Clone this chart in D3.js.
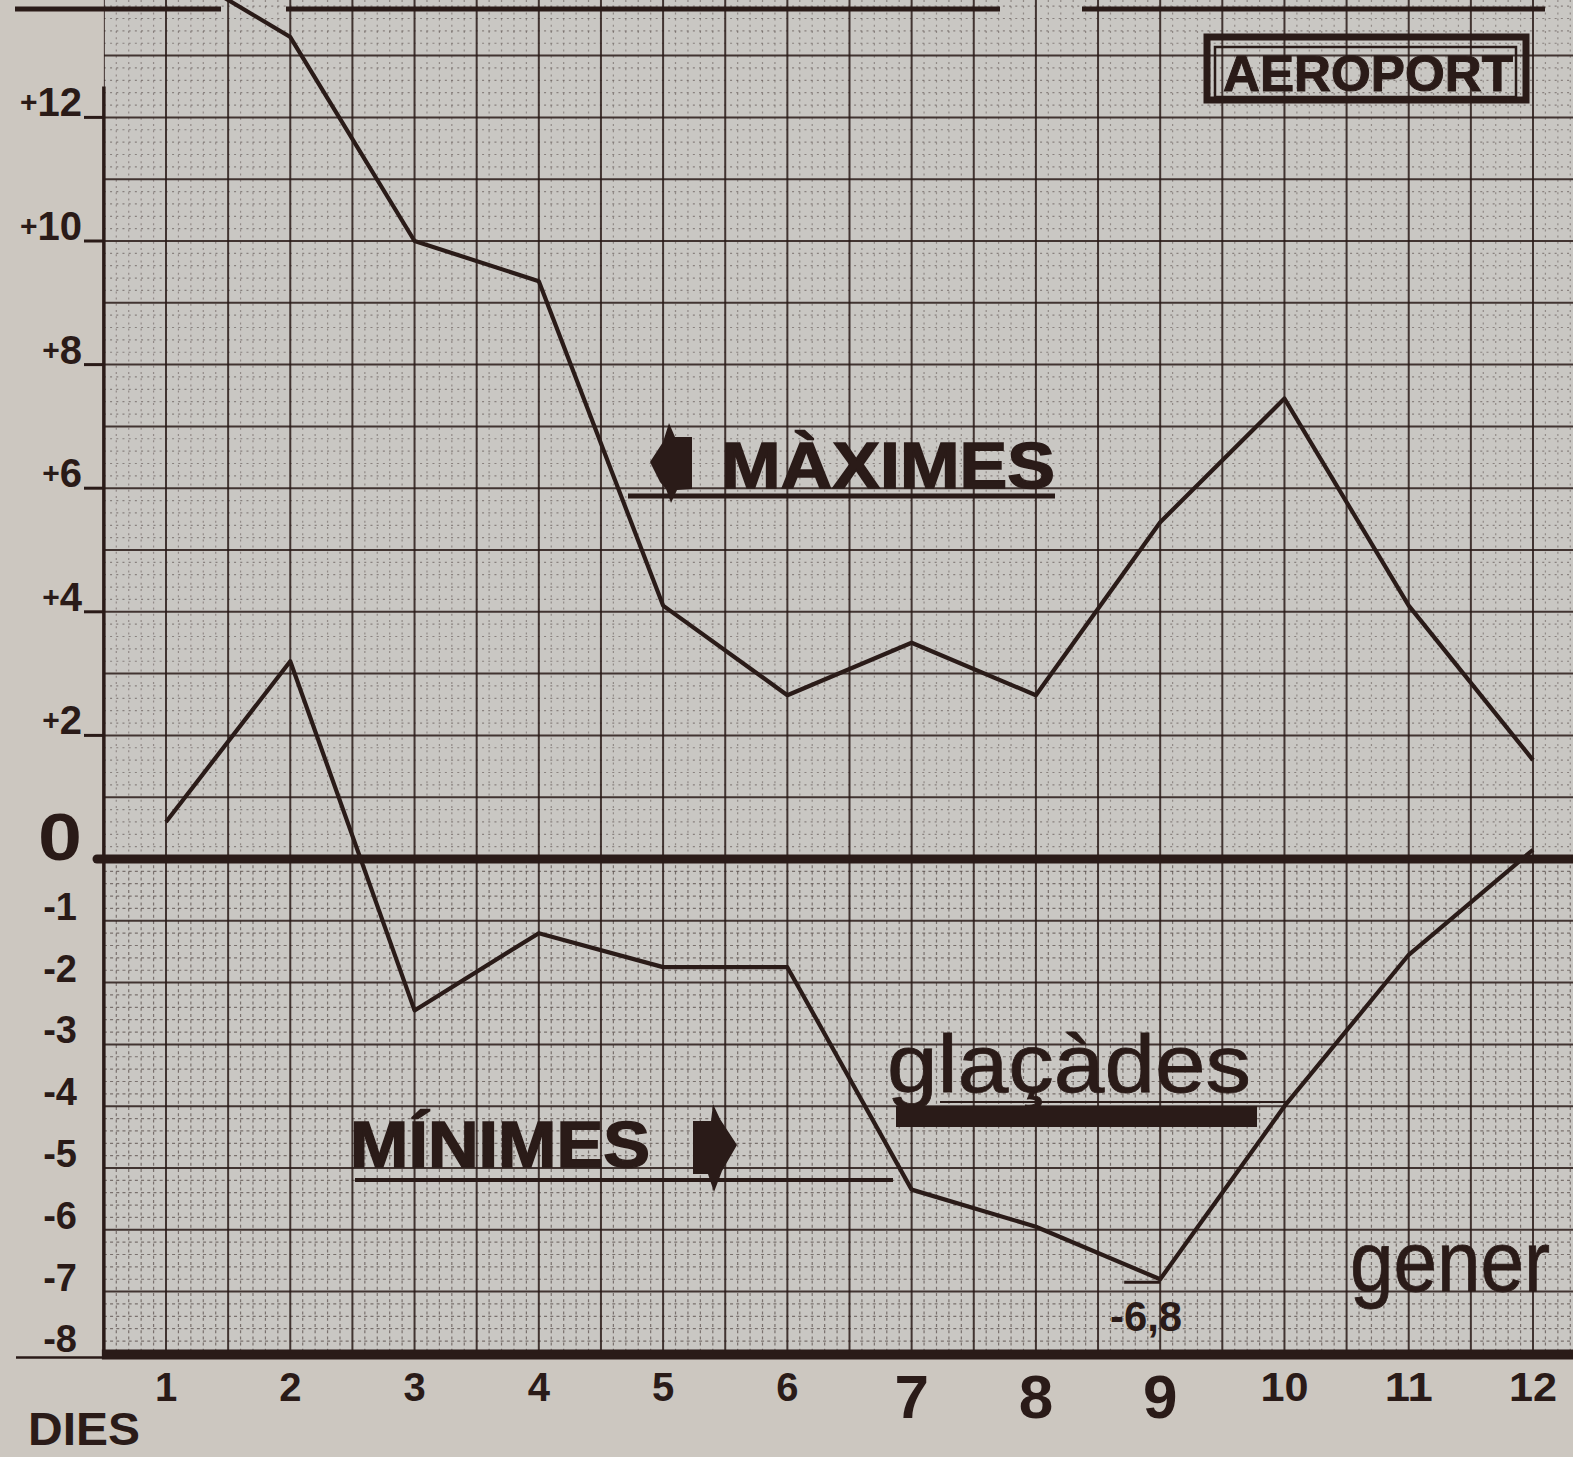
<!DOCTYPE html>
<html><head><meta charset="utf-8">
<script src="https://cdn.jsdelivr.net/npm/d3@7"></script>
<style>
html,body{margin:0;padding:0;background:#cbc7c1;overflow:hidden;}
svg{display:block;}
text{font-family:"Liberation Sans",Arial,Helvetica,sans-serif;fill:#2a1b18;}
</style></head><body>
<svg id="chart" width="1573" height="1457"></svg>
<script>
// ---- data ----
const days = [1,2,3,4,5,6,7,8,9,10,11,12];
const maxima = [14.5, 13.3, 10.0, 9.35, 4.1, 2.65, 3.5, 2.65, 5.45, 7.45, 4.1, 1.6];
const minima = [0.6, 3.2, -2.45, -1.2, -1.75, -1.75, -5.35, -5.95, -6.8, -4.0, -1.55, 0.15];
const yPosTicks = [12, 10, 8, 6, 4, 2];
const yPosLabels = ["12", "10", "8", "6", "4", "2"];
const yNegTicks = [-1, -2, -3, -4, -5, -6, -7, -8];
const yNegLabels = ["-1", "-2", "-3", "-4", "-5", "-6", "-7", "-8"];
const xTickLabels = ["1","2","3","4","5","6","7","8","9","10","11","12"];
const minLowLabel = "-6,8";

// ---- layout ----
const W = 1573, H = 1457;
const ink = "#2a1b18";
const svg = d3.select("#chart");
const x = d3.scaleLinear().domain([1, 12]).range([166, 1533]);
const y = d3.scaleLinear().domain([0, -8]).range([859, 1353.4]);
const gridL = x(0.5), gridR = W, gridT = 0, gridB = y(-8);

svg.append("rect").attr("width", W).attr("height", H).attr("fill", "#ccc7c0");
svg.append("rect").attr("x", gridL).attr("y", 0).attr("width", gridR - gridL).attr("height", gridB)
  .attr("fill", "#c9c7c3");

const defs = svg.append("defs");
defs.append("clipPath").attr("id", "gclip").append("rect")
  .attr("x", gridL).attr("y", gridT).attr("width", gridR - gridL).attr("height", gridB - gridT);
defs.append("clipPath").attr("id", "pclip").append("rect")
  .attr("x", 0).attr("y", 0).attr("width", W).attr("height", H);

const grid = svg.append("g").attr("clip-path", "url(#gclip)");
const isInt = v => Math.abs(v - Math.round(v)) < 1e-6;
const isHalf = v => Math.abs(v * 2 - Math.round(v * 2)) < 1e-6;

// minor horizontal lines
const minorH = d3.range(-8, 14, 0.2).map(v => +v.toFixed(2)).filter(v => !isInt(v));
grid.selectAll("line.mh").data(minorH).join("line")
  .attr("x1", gridL).attr("x2", gridR)
  .attr("y1", d => y(d)).attr("y2", d => y(d))
  .attr("stroke", ink).attr("stroke-width", 1.2)
  .attr("stroke-dasharray", d => d < 0 ? "3,3.2" : "2,4.2")
  .attr("opacity", d => d < 0 ? 0.5 : 0.4);
// minor vertical lines (two segments: above and below zero)
const minorV = d3.range(0.5, 12.8, 0.1).map(v => +v.toFixed(2)).filter(v => !isHalf(v));
grid.selectAll("line.mvu").data(minorV).join("line")
  .attr("x1", d => x(d)).attr("x2", d => x(d))
  .attr("y1", gridT).attr("y2", y(0))
  .attr("stroke", ink).attr("stroke-width", 1.2)
  .attr("stroke-dasharray", "2,4.2").attr("opacity", 0.35);
grid.selectAll("line.mvd").data(minorV).join("line")
  .attr("x1", d => x(d)).attr("x2", d => x(d))
  .attr("y1", y(0)).attr("y2", gridB)
  .attr("stroke", ink).attr("stroke-width", 1.2)
  .attr("stroke-dasharray", "3,3.2").attr("opacity", 0.5);
// major lines
const majorH = d3.range(-8, 14, 1);
grid.selectAll("line.MH").data(majorH).join("line")
  .attr("x1", gridL).attr("x2", gridR)
  .attr("y1", d => y(d)).attr("y2", d => y(d))
  .attr("stroke", ink).attr("stroke-width", 2).attr("opacity", 0.85);
const majorV = d3.range(0.5, 12.8, 0.5);
grid.selectAll("line.MV").data(majorV).join("line")
  .attr("x1", d => x(d)).attr("x2", d => x(d))
  .attr("y1", gridT).attr("y2", gridB)
  .attr("stroke", ink).attr("stroke-width", 2).attr("opacity", 0.85);

// left axis line
svg.append("line").attr("x1", gridL).attr("x2", gridL).attr("y1", y(12.5)).attr("y2", gridB)
  .attr("stroke", ink).attr("stroke-width", 3.5);

// top decorative thick frame line (broken)
const topY = 9;
[[15, 221], [286, 1000], [1082, 1545]].forEach(s => {
  svg.append("line").attr("x1", s[0]).attr("x2", s[1]).attr("y1", topY).attr("y2", topY)
    .attr("stroke", ink).attr("stroke-width", 5);
});

// zero line
svg.append("line").attr("x1", 97).attr("x2", W).attr("y1", y(0)).attr("y2", y(0))
  .attr("stroke", ink).attr("stroke-width", 9).attr("stroke-linecap", "round");
// bottom axis
svg.append("line").attr("x1", gridL - 2).attr("x2", W).attr("y1", y(-8) + 1).attr("y2", y(-8) + 1)
  .attr("stroke", ink).attr("stroke-width", 10);
svg.append("line").attr("x1", 16).attr("x2", gridL).attr("y1", y(-8) + 4).attr("y2", y(-8) + 4)
  .attr("stroke", ink).attr("stroke-width", 2.5);

// y ticks (positive)
svg.selectAll("line.yt").data(yPosTicks).join("line")
  .attr("x1", 84).attr("x2", gridL).attr("y1", d => y(d)).attr("y2", d => y(d))
  .attr("stroke", ink).attr("stroke-width", 3);
const pl = svg.selectAll("text.yp").data(yPosTicks).join("text")
  .attr("x", 82).attr("y", d => y(d) - 1).attr("text-anchor", "end")
  .attr("font-size", 40).attr("font-weight", "bold");
pl.append("tspan").attr("font-size", 30).attr("dy", -4).text("+");
pl.append("tspan").attr("dy", 4).text((d, i) => yPosLabels[i]);
// zero label
svg.append("text").attr("x", 38).attr("y", y(0) + 1).attr("font-size", 66).attr("font-weight", "bold")
  .attr("textLength", 44).attr("lengthAdjust", "spacingAndGlyphs").text("0");
// negative labels
svg.selectAll("text.yn").data(yNegTicks).join("text")
  .attr("x", 77).attr("y", d => y(d) - 1).attr("text-anchor", "end")
  .attr("font-size", 38).attr("font-weight", "bold")
  .text((d, i) => yNegLabels[i]);

// x labels
svg.selectAll("text.xl").data(days).join("text")
  .attr("x", d => x(d)).attr("text-anchor", "middle").attr("font-weight", "bold")
  .attr("y", d => (d >= 7 && d <= 9) ? 1418 : 1401)
  .attr("font-size", d => (d >= 7 && d <= 9) ? 62 : 40)
  .attr("textLength", d => d >= 10 ? 48 : null)
  .attr("lengthAdjust", "spacingAndGlyphs")
  .text((d, i) => xTickLabels[i]);
svg.append("text").attr("x", 28).attr("y", 1445).attr("font-size", 46).attr("font-weight", "bold")
  .attr("textLength", 112).attr("lengthAdjust", "spacingAndGlyphs").text("DIES");

// data lines
const line = d3.line().x(d => x(d[0])).y(d => y(d[1]));
const plot = svg.append("g").attr("clip-path", "url(#pclip)");
plot.append("path").datum(days.map((d, i) => [d, maxima[i]])).attr("d", line)
  .attr("fill", "none").attr("stroke", ink).attr("stroke-width", 4.2).attr("stroke-linejoin", "round");
plot.append("path").datum(days.map((d, i) => [d, minima[i]])).attr("d", line)
  .attr("fill", "none").attr("stroke", ink).attr("stroke-width", 4.2).attr("stroke-linejoin", "round");

// lowest-minimum marker & label
const iLow = minima.indexOf(d3.min(minima));
svg.append("line").attr("x1", x(days[iLow]) - 36).attr("x2", x(days[iLow]))
  .attr("y1", y(minima[iLow]) + 3).attr("y2", y(minima[iLow]) + 3)
  .attr("stroke", ink).attr("stroke-width", 3);
svg.append("text").attr("x", 1110).attr("y", 1331).attr("font-size", 42).attr("font-weight", "bold")
  .attr("textLength", 72).attr("lengthAdjust", "spacingAndGlyphs").text(minLowLabel);

// AEROPORT box
svg.append("rect").attr("x", 1207).attr("y", 37).attr("width", 319).attr("height", 63)
  .attr("fill", "none").attr("stroke", ink).attr("stroke-width", 7);
svg.append("rect").attr("x", 1215).attr("y", 47).attr("width", 301).attr("height", 50)
  .attr("fill", "none").attr("stroke", ink).attr("stroke-width", 2.5);
svg.append("text").attr("x", 1223).attr("y", 91).attr("font-size", 50).attr("font-weight", "bold")
  .attr("stroke", ink).attr("stroke-width", 1)
  .attr("textLength", 290).attr("lengthAdjust", "spacingAndGlyphs").text("AEROPORT");

// MÀXIMES
svg.append("text").attr("x", 721).attr("y", 488).attr("font-size", 64).attr("font-weight", "bold")
  .attr("stroke", ink).attr("stroke-width", 1.5)
  .attr("textLength", 334).attr("lengthAdjust", "spacingAndGlyphs").text("MÀXIMES");
svg.append("line").attr("x1", 628).attr("x2", 1055).attr("y1", 496).attr("y2", 496)
  .attr("stroke", ink).attr("stroke-width", 5);
svg.append("polygon")
  .attr("points", [[650,462],[663,442],[669,423],[675,437],[692,437],[692,489],[677,490],[671,503],[666,489],[660,482]].map(p => p.join(",")).join(" "))
  .attr("fill", ink);

// MÍNIMES
svg.append("text").attr("x", 350).attr("y", 1167).attr("font-size", 64).attr("font-weight", "bold")
  .attr("stroke", ink).attr("stroke-width", 1.5)
  .attr("textLength", 300).attr("lengthAdjust", "spacingAndGlyphs").text("MÍNIMES");
svg.append("line").attr("x1", 355).attr("x2", 893).attr("y1", 1180).attr("y2", 1180)
  .attr("stroke", ink).attr("stroke-width", 4);
svg.append("polygon")
  .attr("points", [[693,1121],[711,1121],[713,1104],[720,1119],[737,1145],[722,1171],[714,1192],[708,1174],[693,1174]].map(p => p.join(",")).join(" "))
  .attr("fill", ink);

// glaçàdes
svg.append("text").attr("x", 887).attr("y", 1092).attr("font-size", 82)
  .attr("stroke", ink).attr("stroke-width", 0.8)
  .attr("textLength", 364).attr("lengthAdjust", "spacingAndGlyphs").text("glaçàdes");
svg.append("rect").attr("x", 896).attr("y", 1106).attr("width", 361).attr("height", 21).attr("fill", ink);
svg.append("line").attr("x1", 940).attr("x2", 1290).attr("y1", 1102).attr("y2", 1102)
  .attr("stroke", ink).attr("stroke-width", 2);

// gener
svg.append("text").attr("x", 1350).attr("y", 1291).attr("font-size", 86)
  .attr("stroke", ink).attr("stroke-width", 0.8)
  .attr("textLength", 200).attr("lengthAdjust", "spacingAndGlyphs").text("gener");
</script>
</body></html>
